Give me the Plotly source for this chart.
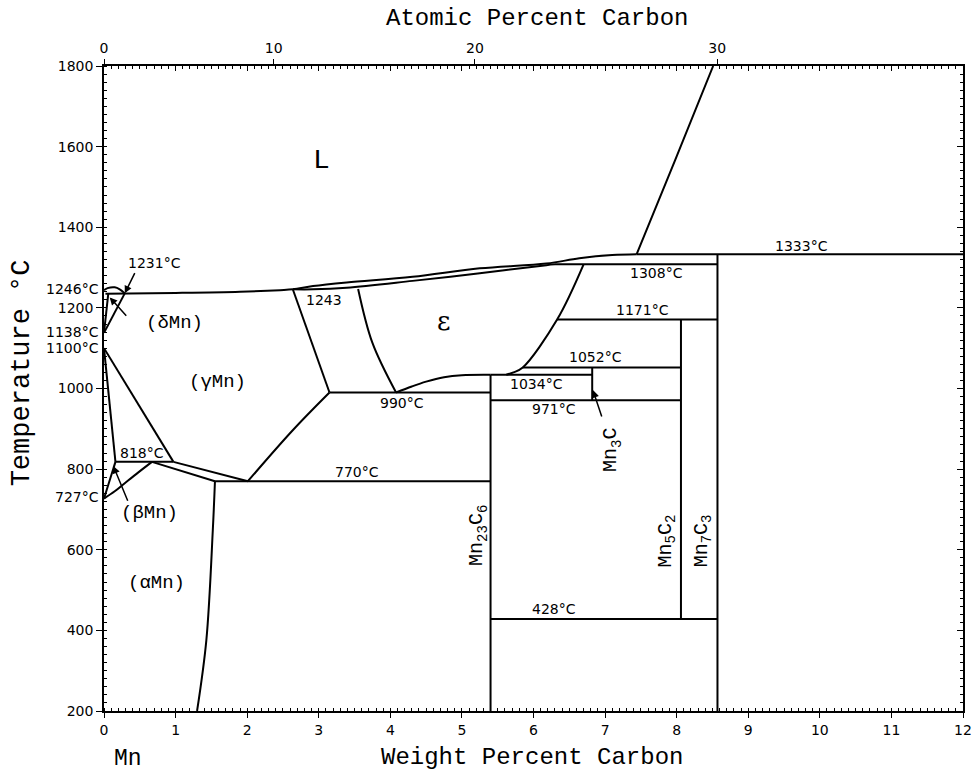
import plotly.graph_objects as go

# ---------------- data: phase boundaries (wt% C, temperature °C) ----------------
liquidus_x = [0.02, 1.0, 1.9, 2.46, 2.64, 2.92, 3.39, 4.31, 5.25, 6.18, 6.64, 7.1, 7.44]
liquidus_T = [1235, 1237, 1240, 1244, 1246, 1254, 1263, 1277, 1298, 1310, 1323, 1331, 1333]

eps_solidus_x = [2.64, 2.92, 3.39, 4.31, 5.25, 6.18, 6.30]
eps_solidus_T = [1246, 1246, 1250, 1267, 1286, 1306, 1308]

high_liq_x = [7.44, 7.98, 8.51]
high_liq_T = [1333, 1567, 1800]

delta_liq_x = [0.0, 0.05, 0.15, 0.22, 0.29]
delta_liq_T = [1244, 1249, 1251, 1246, 1236]
delta_solvus_x = [0.0, 0.06]
delta_solvus_T = [1138, 1236]
gamma_delta_x = [0.0, 0.29]
gamma_delta_T = [1138, 1236]

gamma_beta_x = [0.0, 0.97]
gamma_beta_T = [1100, 818]
beta_gamma_x = [0.0, 0.16]
beta_gamma_T = [1100, 818]
beta_alpha_x = [0.16, 0.0]
beta_alpha_T = [818, 727]
alpha_beta_x = [0.0, 0.15, 0.29, 0.48, 0.67]
alpha_beta_T = [727, 745, 765, 792, 818]
alpha_gamma_x = [0.67, 1.55]
alpha_gamma_T = [818, 770]
gamma_alpha_x = [0.97, 2.01]
gamma_alpha_T = [818, 770]
alpha_solvus_x = [1.55, 1.52, 1.43, 1.30]
alpha_solvus_T = [770, 649, 376, 200]

gamma_eps_low_x = [2.01, 2.64, 3.15]
gamma_eps_low_T = [770, 897, 990]
gamma_eps_up_x = [2.64, 3.15]
gamma_eps_up_T = [1245, 990]
eps_gamma_x = [3.55, 3.75, 4.08]
eps_gamma_T = [1247, 1113, 990]
eps_low_x = [4.08, 4.3, 4.5, 4.75, 5.0, 5.40]
eps_low_T = [990, 1005, 1017, 1028, 1033, 1034]
eps_right_x = [6.70, 6.33, 5.85, 5.72, 5.62]
eps_right_T = [1308, 1171, 1052, 1040, 1034]

# isotherms: temperature, start wt%, end wt%
iso_T = [1333, 1308, 1171, 1052, 1034, 971, 990, 818, 770, 428]
iso_x0 = [7.44, 6.30, 6.33, 5.85, 5.40, 5.40, 3.15, 0.16, 1.55, 5.40]
iso_x1 = [12.0, 8.57, 8.57, 8.06, 6.82, 8.06, 5.40, 0.97, 5.40, 8.57]

# compounds: wt% C, lower T, upper T
comp_x = [5.40, 6.82, 8.06, 8.57]
comp_Tlo = [200, 971, 428, 200]
comp_Thi = [1034, 1052, 1171, 1333]

# axis ticks
temp_ticks = [200, 400, 600, 800, 1000, 1200, 1400, 1600, 1800]
wt_ticks = list(range(0, 13))
at_ticks = [0, 10, 20, 30]
side_T_labels = ["1246°C", "1138°C", "1100°C", "727°C"]
side_T_values = [1247, 1141, 1100, 731]

# annotation texts (wt% C, °C)
iso_label_text = ["1231°C", "818°C", "770°C", "990°C", "1243", "1308°C", "1171°C",
                  "1052°C", "1034°C", "971°C", "1333°C", "428°C"]
iso_label_x = [0.71, 0.53, 3.54, 4.16, 3.08, 7.72, 7.52, 6.86, 6.04, 6.29, 9.75, 6.28]
iso_label_T = [1311, 840, 792, 963, 1219, 1286, 1194, 1078, 1011, 950, 1353, 452]

phase_text = ["(δMn)", "(γMn)", "(βMn)", "(αMn)"]
phase_x = [0.99, 1.58, 0.64, 0.74]
phase_T = [1162, 1016, 691, 517]

comp_text = ["Mn<sub>23</sub>C<sub>6</sub>", "Mn<sub>3</sub>C", "Mn<sub>5</sub>C<sub>2</sub>",
             "Mn<sub>7</sub>C<sub>3</sub>"]
comp_lx = [5.22, 7.10, 7.86, 8.36]
comp_lT = [636, 848, 622, 622]

# arrows: head (x, T), tail (x, T)
arrow_head_x = [0.29, 0.08, 0.13, 6.83]
arrow_head_T = [1236, 1226, 808, 996]
arrow_tail_x = [0.44, 0.33, 0.34, 6.96]
arrow_tail_T = [1290, 1177, 718, 927]


def at_to_wt(a):
    return a * 12.011 / (a * 12.011 + (100 - a) * 54.938) * 100


fig = go.Figure()
line_style = dict(color="black", width=2)

curves = [
    (liquidus_x, liquidus_T), (eps_solidus_x, eps_solidus_T), (high_liq_x, high_liq_T),
    (delta_liq_x, delta_liq_T), (delta_solvus_x, delta_solvus_T), (gamma_delta_x, gamma_delta_T),
    (gamma_beta_x, gamma_beta_T), (beta_gamma_x, beta_gamma_T), (beta_alpha_x, beta_alpha_T),
    (alpha_beta_x, alpha_beta_T), (alpha_gamma_x, alpha_gamma_T), (gamma_alpha_x, gamma_alpha_T),
    (alpha_solvus_x, alpha_solvus_T), (gamma_eps_low_x, gamma_eps_low_T),
    (gamma_eps_up_x, gamma_eps_up_T), (eps_gamma_x, eps_gamma_T), (eps_low_x, eps_low_T),
    (eps_right_x, eps_right_T),
]
for cx, cy in curves:
    fig.add_trace(go.Scatter(x=cx, y=cy, mode="lines", line=line_style,
                             line_shape="spline", hoverinfo="skip", showlegend=False))

for T, x0, x1 in zip(iso_T, iso_x0, iso_x1):
    fig.add_trace(go.Scatter(x=[x0, x1], y=[T, T], mode="lines", line=line_style,
                             hoverinfo="skip", showlegend=False))

for cxv, lo, hi in zip(comp_x, comp_Tlo, comp_Thi):
    fig.add_trace(go.Scatter(x=[cxv, cxv], y=[lo, hi], mode="lines", line=line_style,
                             hoverinfo="skip", showlegend=False))

# dummy traces to bind the extra axes
fig.add_trace(go.Scatter(x=[0], y=[200], xaxis="x2", yaxis="y", mode="markers",
                         marker=dict(opacity=0), hoverinfo="skip", showlegend=False))
fig.add_trace(go.Scatter(x=[0], y=[200], xaxis="x3", yaxis="y2", mode="markers",
                         marker=dict(opacity=0), hoverinfo="skip", showlegend=False))

num_font = dict(family="DejaVu Sans", size=14, color="black")
tw_font = dict(family="Liberation Mono", size=19, color="black")

ann = []
for t, x, y in zip(iso_label_text, iso_label_x, iso_label_T):
    ann.append(dict(x=x, y=y, text=t, showarrow=False, font=num_font))
for t, x, y in zip(phase_text, phase_x, phase_T):
    ann.append(dict(x=x, y=y, text=t, showarrow=False, font=tw_font))
for t, x, y in zip(comp_text, comp_lx, comp_lT):
    ann.append(dict(x=x, y=y, text=t, showarrow=False, textangle=-90,
                    font=dict(family="Liberation Mono", size=20, color="black")))
for hx, hy, tx, ty in zip(arrow_head_x, arrow_head_T, arrow_tail_x, arrow_tail_T):
    ann.append(dict(x=hx, y=hy, ax=tx, ay=ty, axref="x", ayref="y", text="",
                    showarrow=True, arrowhead=2, arrowsize=1, arrowwidth=1.5,
                    arrowcolor="black"))
for t, v in zip(side_T_labels, side_T_values):
    ann.append(dict(x=0, y=v, xref="x", text=t, showarrow=False, xanchor="right",
                    xshift=-3, font=num_font))

ann.append(dict(x=3.04, y=1565, text="L", showarrow=False,
                font=dict(family="Liberation Mono", size=28, color="black")))
ann.append(dict(x=4.74, y=1167, text="ε", showarrow=False,
                font=dict(family="DejaVu Serif", size=26, color="black")))

title_font = dict(family="Liberation Mono", size=24, color="black")
ann.append(dict(x=0.4985, y=-0.072, xref="paper", yref="paper", text="Weight Percent Carbon",
                xanchor="center", yanchor="middle", showarrow=False, font=title_font))
ann.append(dict(x=0.504, y=1.074, xref="paper", yref="paper", text="Atomic Percent Carbon",
                xanchor="center", yanchor="middle", showarrow=False, font=title_font))
ann.append(dict(x=-0.0955, y=0.525, xref="paper", yref="paper", text="Temperature °C",
                xanchor="center", yanchor="middle", textangle=-90, showarrow=False,
                font=dict(family="Liberation Mono", size=27, color="black")))
ann.append(dict(x=0.028, y=-0.074, xref="paper", yref="paper", text="Mn",
                xanchor="center", yanchor="middle", showarrow=False,
                font=dict(family="Liberation Mono", size=23, color="black")))

axis_common = dict(showgrid=False, zeroline=False, linecolor="black", linewidth=1.5,
                   automargin=False, tickcolor="black",
                   tickfont=dict(family="DejaVu Sans", size=14, color="black"))

fig.update_layout(
    width=974, height=772, autosize=False,
    margin=dict(l=104, r=11, t=66, b=61, autoexpand=False),
    paper_bgcolor="white", plot_bgcolor="white",
    annotations=ann,
    xaxis=dict(range=[0, 12], tickvals=wt_ticks, ticks="outside", ticklen=5, showline=True,
               minor=dict(dtick=0.1, tick0=0, ticks="inside", ticklen=3, tickcolor="black"),
               **axis_common),
    xaxis3=dict(range=[0, 12], overlaying="x", side="top", tickvals=wt_ticks, ticks="inside",
                ticklen=5, showline=True, showticklabels=False,
                minor=dict(dtick=0.1, tick0=0, ticks="inside", ticklen=3, tickcolor="black"),
                **axis_common),
    xaxis2=dict(range=[0, 12], overlaying="x", side="top",
                tickvals=[at_to_wt(a) for a in at_ticks], ticktext=[str(a) for a in at_ticks],
                ticks="outside", ticklen=6, showline=False, **axis_common),
    yaxis=dict(range=[200, 1800], tickvals=temp_ticks, ticks="outside", ticklen=6, showline=True,
               minor=dict(dtick=20, tick0=200, ticks="inside", ticklen=3, tickcolor="black"),
               **axis_common),
    yaxis2=dict(range=[200, 1800], overlaying="y", side="right", tickvals=temp_ticks,
                ticks="inside", ticklen=6, showline=True, showticklabels=False,
                minor=dict(dtick=20, tick0=200, ticks="inside", ticklen=3, tickcolor="black"),
                **axis_common),
)

fig.write_html(
    "out.html",
    config=dict(displayModeBar=False),
    post_script="document.body.style.margin='0';document.body.style.overflow='hidden';",
)
